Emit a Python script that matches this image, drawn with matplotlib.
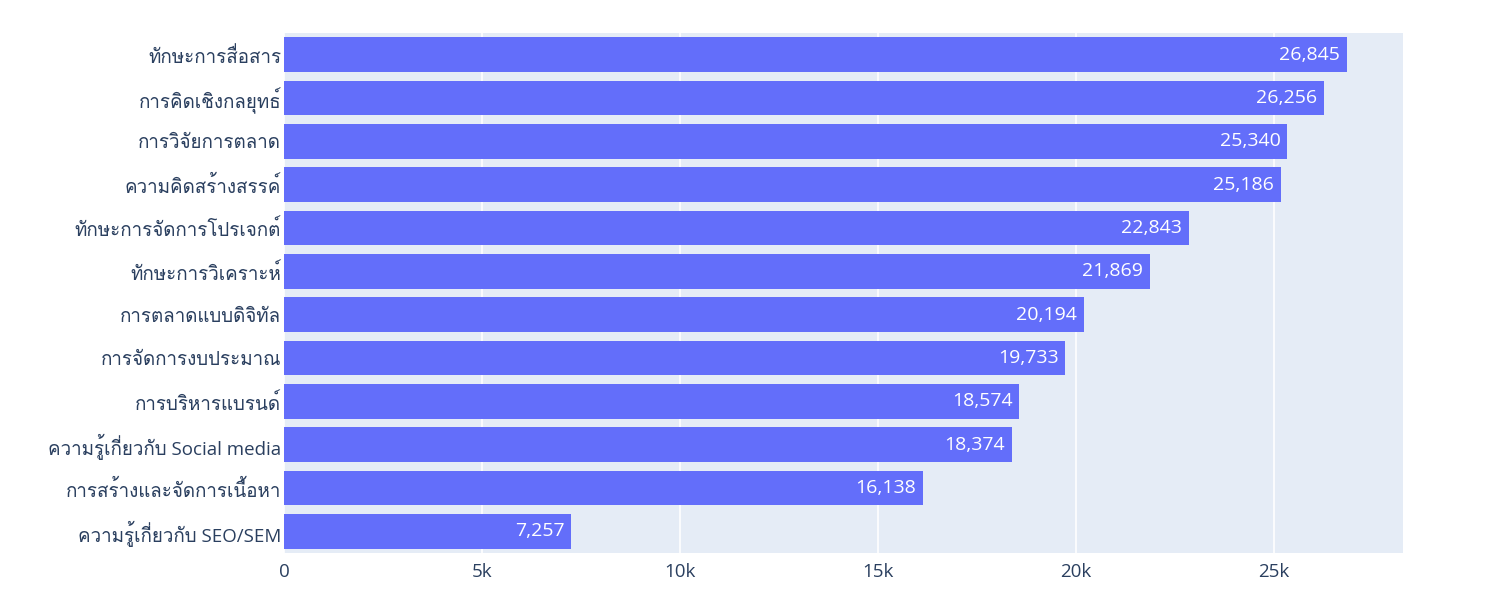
import matplotlib
matplotlib.use("Agg")
import matplotlib.pyplot as plt
from matplotlib import font_manager
from matplotlib.ft2font import FT2Font
from matplotlib.ticker import FuncFormatter

skills = [
    "ทักษะการสื่อสาร",
    "การคิดเชิงกลยุทธ์",
    "การวิจัยการตลาด",
    "ความคิดสร้างสรรค์",
    "ทักษะการจัดการโปรเจกต์",
    "ทักษะการวิเคราะห์",
    "การตลาดแบบดิจิทัล",
    "การจัดการงบประมาณ",
    "การบริหารแบรนด์",
    "ความรู้เกี่ยวกับ Social media",
    "การสร้างและจัดการเนื้อหา",
    "ความรู้เกี่ยวกับ SEO/SEM",
]
counts = [26845, 26256, 25340, 25186, 22843, 21869, 20194, 19733, 18574, 18374, 16138, 7257]
x_ticks = [0, 5000, 10000, 15000, 20000, 25000]

# find any installed font that has Thai glyphs
thai_fams = []
for f in font_manager.fontManager.ttflist:
    try:
        if 0x0E01 in FT2Font(f.fname).get_charmap() and f.name not in thai_fams:
            thai_fams.append(f.name)
    except Exception:
        pass

families = ["Open Sans"] + thai_fams[:2] + ["DejaVu Sans"]
plt.rcParams["font.family"] = families

text_col = "#2a3f5f"
bar_col = "#636efa"

fig = plt.figure(figsize=(14.92, 5.96), dpi=100)
ax = fig.add_axes([0.1903, 0.0721, 0.75, 0.8725])
ax.set_facecolor("#e5ecf6")

ypos = list(range(len(skills)))[::-1]
ax.barh(ypos, counts, height=0.8, color=bar_col, zorder=2)

for y, v in zip(ypos, counts):
    ax.annotate(f"{v:,}", xy=(v, y), xytext=(-5, 0), textcoords="offset points",
                ha="right", va="center", color="white", fontsize=14, zorder=3)

ax.set_xlim(0, max(counts) * 1.0526)
ax.set_ylim(-0.5, len(skills) - 0.5)
ax.set_yticks(ypos)
ax.set_yticklabels(skills, fontsize=13.5, color=text_col)
ax.set_xticks(x_ticks)
ax.xaxis.set_major_formatter(FuncFormatter(lambda v, p: "0" if v == 0 else f"{int(v/1000)}k"))
ax.tick_params(axis="x", labelsize=13.5, labelcolor=text_col, length=0, pad=7)
ax.tick_params(axis="y", length=0, pad=2)
ax.grid(axis="x", color="white", linewidth=1.2, zorder=1)
for s in ax.spines.values():
    s.set_visible(False)

fig.savefig("out.png", dpi=100, facecolor="white")
